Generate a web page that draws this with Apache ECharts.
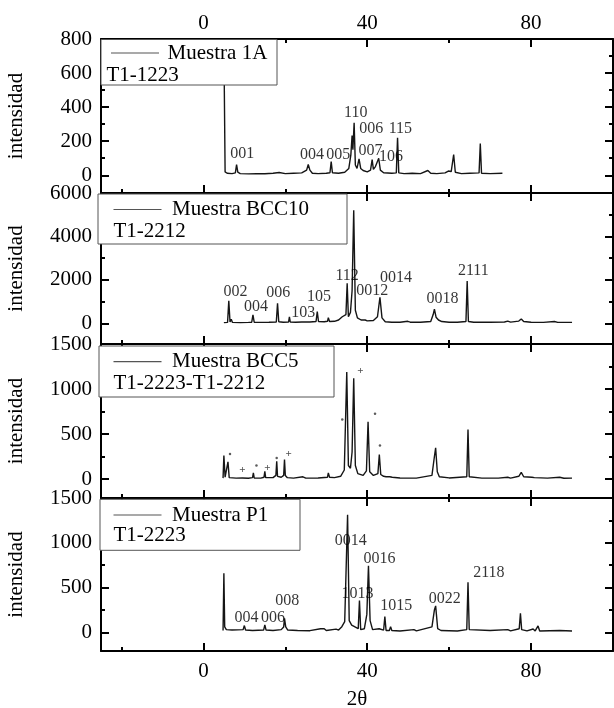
<!DOCTYPE html>
<html><head><meta charset="utf-8">
<script src="https://cdn.jsdelivr.net/npm/echarts@6/dist/echarts.min.js"></script>
<style>html,body{margin:0;padding:0;background:#fff}#c{width:614px;height:708px}</style>
</head><body><div id="c"></div>
<script>
const FONT = "'Liberation Serif','Times New Roman',serif";

// ---------- Panel 1 : Muestra 1A ----------
const twoTheta1 = [5.0,5.3,5.8,7,7.8,8.1,8.4,9,11,13,15,17,18.5,20,22,24,25.2,25.6,26.0,26.6,28,30,30.9,31.2,31.5,33,34.5,35.5,36.0,36.3,36.5,36.8,37.1,37.5,38.0,38.4,39,40,40.8,41.2,41.5,42.0,42.3,42.8,43.2,44,46,47.1,47.4,47.7,49,51,53,54.8,55.5,57,59,59.8,60.5,61.1,61.5,63,65,67.3,67.6,67.9,70,73];
const intensity1 = [780,20,12,10,14,63,18,10,8,10,9,12,16,10,12,14,30,63,30,12,10,12,15,80,15,12,18,40,120,233,150,308,60,40,96,40,28,20,30,92,35,51,40,100,30,15,12,14,220,14,10,12,10,28,12,10,14,25,22,122,18,10,12,14,187,12,10,12];
const peaks1 = [['001',9.5,128],['004',26.5,118],['005',32.9,118],['110',37.2,364],['006',41.0,275],['115',48.1,270],['007',40.8,146],['106',45.8,106]];

// ---------- Panel 2 : Muestra BCC10 ----------
const twoTheta2 = [5,5.9,6.2,6.5,6.8,7.1,9,11,11.8,12.1,12.4,14,16,17.8,18.1,18.4,19.5,20.8,21.0,21.2,22.5,24.0,24.2,24.4,26,27.5,27.8,28.1,29.5,30.3,30.5,30.8,32,33,33.9,34.3,34.8,35.1,35.4,35.9,36.3,36.7,37.1,37.6,38.5,39.5,40,41.5,42.5,43.1,43.6,44.0,44.4,46,48,49.9,50.5,53,55.5,56.1,56.4,56.8,57.4,57.8,58.2,60,62,64.1,64.4,64.7,66,70,73.5,74.3,75,77.0,77.6,78.2,80,83,85.7,86.5,90];
const intensity2 = [30,40,1030,60,180,40,30,40,50,385,50,40,45,60,920,70,50,60,300,60,50,60,120,60,60,80,540,80,70,90,260,80,90,150,300,250,400,1845,300,500,1500,5200,600,250,150,150,110,130,300,1200,250,180,70,50,45,90,50,45,80,400,645,280,150,230,80,50,45,80,1950,80,50,45,60,100,50,100,200,80,45,40,80,40,40];
const peaks2 = [['002',7.85,1458],['004',12.85,762],['006',18.3,1412],['103',24.35,489],['105',28.25,1200],['112',35.1,2178],['0012',41.2,1500],['0014',47.0,2117],['0018',58.4,1121],['2111',65.9,2413]];

// ---------- Panel 3 : Muestra BCC5 ----------
const twoTheta3 = [4.8,5.0,5.3,5.7,6.0,6.3,8,9.5,9.7,9.9,11,12.0,12.2,12.4,14,14.8,15.0,15.2,17.0,17.7,17.9,18.1,19.0,19.6,19.8,20.0,20.5,22,24.3,25,28,30.3,30.5,30.8,32,33.5,34.4,35.0,35.4,35.9,36.3,36.7,37.1,37.7,39,39.8,40.2,40.6,41.5,42.6,42.95,43.3,44.0,44.3,44.6,45.5,45.8,46.1,48,52,55.8,56.4,56.7,57.1,57.6,60,64.3,64.6,64.9,68,72,74.3,75,77.0,77.6,78.2,80.2,80.5,80.8,84,87,88,90];
const intensity3 = [10,260,20,20,190,15,10,12,30,10,8,15,67,12,10,20,86,15,15,40,197,30,20,40,216,40,15,10,25,10,12,20,67,20,15,30,100,1190,150,120,300,1120,150,60,40,90,636,80,40,60,272,50,30,45,25,25,45,20,12,10,40,250,346,80,25,12,25,550,25,10,10,20,10,30,74,25,20,37,15,10,20,8,10];
const dots3 = [[6.5,279],[12.95,149],[17.9,234],[33.9,662],[41.9,725],[43.1,372]];
const plus3 = [[9.5,93],[15.6,123],[20.8,272],[38.3,1194]];

// ---------- Panel 4 : Muestra P1 ----------
const twoTheta4 = [4.8,5.0,5.2,5.6,7,9.7,10.0,10.3,12,14.7,15.0,15.3,17,19.0,19.6,19.8,20.1,20.6,23,26,28.6,29.0,29.5,30,32.4,33,33.8,34.5,35.2,35.6,36.2,36.6,37.8,38.1,38.4,39.3,39.9,40.3,40.7,41.3,42.9,43.3,44.0,44.3,44.6,45.4,45.7,46.0,48,51.4,52,55.8,56.4,56.7,57.2,58,62,64.3,64.6,64.9,70,74.3,75,77.1,77.4,77.7,79,80.5,81.0,81.7,82.1,87,90];
const intensity4 = [20,660,60,30,25,30,75,25,20,25,82,25,20,30,60,157,60,25,20,18,40,20,40,20,35,25,63,120,1313,130,80,60,40,354,30,40,200,742,130,30,40,20,25,175,20,20,63,20,15,30,15,60,250,295,40,20,15,30,560,30,20,30,15,40,213,30,15,37,15,71,15,20,15];
const peaks4 = [['004',10.5,157],['006',17.0,157],['008',20.5,351],['0014',36.0,1026],['1013',37.6,429],['0016',43.0,817],['1015',47.1,295],['0022',58.9,373],['2118',69.7,668]];

// ---------- Axes ----------
const xMin = -25, xMax = 100;
const xMajorTicks = [0,40,80];
const xMinorTicks = [-20,20,60];
const yMins = [-104,-955,-211,-209];
const yMaxs = [800,6000,1500,1500];
const yMajorTicks = [[0,200,400,600,800],[0,2000,4000,6000],[0,500,1000,1500],[0,500,1000,1500]];
const yMinorTicks = [[100,300,500,700],[1000,3000,5000],[250,750,1250],[250,750,1250]];
const legendNames = ['Muestra 1A','Muestra BCC10','Muestra BCC5','Muestra P1'];
const phaseNames = ['T1-1223','T1-2212','T1-2223-T1-2212','T1-2223'];

const gridTops = [39,193,344,498];
const gridHeights = [154,151,154,153];

const xs = [twoTheta1,twoTheta2,twoTheta3,twoTheta4];
const ys = [intensity1,intensity2,intensity3,intensity4];
const peakSets = [peaks1,peaks2,[],peaks4];

const plain = v => String(v);
const lineBlack = {color:'#000', width:2};
const grids = [], xAxes = [], yAxes = [], series = [];

for (let i = 0; i < 4; i++) {
  grids.push({left:101, right:1, top:gridTops[i], height:gridHeights[i], outerBoundsMode:'none', containLabel:false});
  const xBase = {gridIndex:i, type:'value', min:xMin, max:xMax, splitLine:{show:false}};
  xAxes.push(Object.assign({}, xBase, {
    position:'bottom',
    axisLine:{show:true, onZero:false, lineStyle:lineBlack},
    axisTick:{show:true, inside:true, length:8, customValues:xMajorTicks, lineStyle:lineBlack},
    axisLabel:{show:i===3, customValues:xMajorTicks, formatter:plain, color:'#000', fontFamily:FONT, fontSize:21, margin:10},
    name: i===3 ? '2θ' : '', nameLocation:'middle', nameGap:38,
    nameTextStyle:{color:'#000', fontFamily:FONT, fontSize:21}
  }));
  xAxes.push(Object.assign({}, xBase, {
    position:'bottom',
    axisLine:{show:false, onZero:false},
    axisTick:{show:true, inside:true, length:4, customValues:xMinorTicks, lineStyle:lineBlack},
    axisLabel:{show:false}
  }));
  xAxes.push(Object.assign({}, xBase, {
    position:'top',
    axisLine:{show:true, onZero:false, lineStyle:lineBlack},
    axisTick:{show:true, inside:true, length:8, customValues:xMajorTicks, lineStyle:lineBlack},
    axisLabel:{show:i===0, customValues:xMajorTicks, formatter:plain, color:'#000', fontFamily:FONT, fontSize:21, margin:5}
  }));
  xAxes.push(Object.assign({}, xBase, {
    position:'top',
    axisLine:{show:false, onZero:false},
    axisTick:{show:true, inside:true, length:4, customValues:xMinorTicks, lineStyle:lineBlack},
    axisLabel:{show:false}
  }));
  const yBase = {gridIndex:i, type:'value', min:yMins[i], max:yMaxs[i], splitLine:{show:false}};
  yAxes.push(Object.assign({}, yBase, {
    position:'left',
    axisLine:{show:true, onZero:false, lineStyle:lineBlack},
    axisTick:{show:true, inside:true, length:8, customValues:yMajorTicks[i], lineStyle:lineBlack},
    axisLabel:{show:true, customValues:yMajorTicks[i], formatter:plain, color:'#000', fontFamily:FONT, fontSize:21, margin:9},
    name:'intensidad', nameLocation:'middle', nameRotate:90, nameGap:74,
    nameTextStyle:{color:'#000', fontFamily:FONT, fontSize:21}
  }));
  yAxes.push(Object.assign({}, yBase, {
    position:'left',
    axisLine:{show:false, onZero:false},
    axisTick:{show:true, inside:true, length:4, customValues:yMinorTicks[i], lineStyle:lineBlack},
    axisLabel:{show:false}
  }));
  yAxes.push(Object.assign({}, yBase, {
    position:'right',
    axisLine:{show:true, onZero:false, lineStyle:lineBlack},
    axisTick:{show:true, inside:true, length:8, customValues:yMajorTicks[i], lineStyle:lineBlack},
    axisLabel:{show:false}
  }));
  yAxes.push(Object.assign({}, yBase, {
    position:'right',
    axisLine:{show:false, onZero:false},
    axisTick:{show:true, inside:true, length:4, customValues:yMinorTicks[i], lineStyle:lineBlack},
    axisLabel:{show:false}
  }));

  series.push({
    name: legendNames[i], type:'line', xAxisIndex:i*4, yAxisIndex:i*4,
    data: xs[i].map((x,k)=>[x, ys[i][k]]),
    showSymbol:false, symbol:'none', clip:true,
    lineStyle:{color:'#151515', width:1.4}, z:2
  });
  if (peakSets[i].length) {
    series.push({
      type:'scatter', xAxisIndex:i*4, yAxisIndex:i*4, symbolSize:0, silent:true,
      data: peakSets[i].map(p=>({name:p[0], value:[p[1],p[2]]})),
      label:{show:true, position:'inside', formatter:'{b}', color:'#000', fontFamily:FONT, fontSize:16},
      z:3
    });
  }
}
series.push({
  type:'scatter', xAxisIndex:8, yAxisIndex:8, symbol:'circle', symbolSize:2.5, silent:true,
  itemStyle:{color:'#333'}, data:dots3, z:3
});
series.push({
  type:'scatter', xAxisIndex:8, yAxisIndex:8, symbolSize:0, silent:true,
  data:plus3, label:{show:true, position:'inside', formatter:'+', color:'#222', fontFamily:FONT, fontSize:11, fontWeight:'bold'}, z:3
});

const boxes = [
  {x:101, y:39.5, w:176, h:45.5, lx:111, ly:53, tx:167.6, px:106.5, py:75},
  {x:98, y:194, w:249, h:50, lx:113.5, ly:209.5, tx:172, px:113.5, py:231.7},
  {x:99, y:346, w:235, h:51, lx:113.5, ly:361.7, tx:172, px:113.5, py:383.3},
  {x:100, y:499.3, w:200, h:51, lx:113.5, ly:515, tx:172, px:113.5, py:535}
];
const graphic = [];
boxes.forEach((b,i)=>{
  graphic.push({type:'rect', z:100, shape:{x:b.x, y:b.y, width:b.w, height:b.h}, style:{fill:'#fff', stroke:'#555', lineWidth:1}});
  graphic.push({type:'line', z:101, shape:{x1:b.lx, y1:b.ly, x2:b.lx+48, y2:b.ly}, style:{stroke:'#555', lineWidth:1.2}});
  graphic.push({type:'text', z:101, x:b.tx, y:b.ly, style:{text:legendNames[i], fill:'#000', font:'21px '+FONT, verticalAlign:'middle', align:'left'}});
  graphic.push({type:'text', z:101, x:b.px, y:b.py, style:{text:phaseNames[i], fill:'#000', font:'21px '+FONT, verticalAlign:'middle', align:'left'}});
});

const chart = echarts.init(document.getElementById('c'), null, {renderer:'canvas'});
chart.setOption({
  animation:false,
  backgroundColor:'#fff',
  grid:grids, xAxis:xAxes, yAxis:yAxes, series:series, graphic:graphic
});
</script></body></html>
